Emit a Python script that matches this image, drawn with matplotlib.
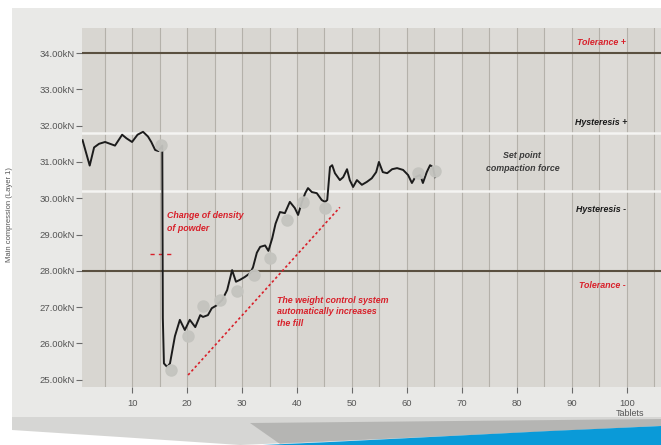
import matplotlib
matplotlib.use("Agg")
import matplotlib.pyplot as plt
from matplotlib.patches import Polygon, Rectangle

# measured compaction force trace
tablets = [1.0, 2.3, 3.1, 4.0, 5.1, 6.0, 6.9, 8.2, 9.0, 10.0, 11.0, 12.0, 12.9, 13.5,
           14.2, 14.8, 15.5, 15.6, 15.8, 16.4, 16.9, 17.8, 18.7, 19.6, 20.5, 21.5,
           22.4, 22.9, 23.8, 24.5, 25.4, 26.4, 27.3, 28.2, 28.9, 29.6, 30.5, 31.5,
           32.0, 32.7, 33.3, 34.2, 34.8, 35.5, 36.1, 36.9, 37.8, 38.7, 39.6, 40.2,
           40.9, 41.5, 42.0, 42.7, 43.6, 44.5, 45.1, 45.5, 46.0, 46.4, 46.9, 47.8,
           48.4, 49.1, 49.6, 50.2, 50.9, 51.8, 52.7, 53.6, 54.4, 54.9, 55.6, 56.4,
           57.3, 58.2, 59.3, 60.2, 60.9, 61.5, 62.4, 62.9, 63.6, 64.2, 64.7, 65.1]
force = [31.6, 30.9, 31.4, 31.5, 31.55, 31.5, 31.45, 31.75, 31.65, 31.55, 31.75, 31.83,
         31.7, 31.55, 31.33, 31.3, 31.45, 26.7, 25.45, 25.35, 25.45, 26.2, 26.65, 26.37,
         26.65, 26.45, 26.78, 26.73, 26.78, 26.97, 27.05, 27.2, 27.47, 28.02, 27.7, 27.75,
         27.83, 27.94, 28.1, 28.5, 28.66, 28.7, 28.55, 28.9, 29.3, 29.62, 29.59, 29.9,
         29.73, 29.54, 29.9, 30.14, 30.28, 30.17, 30.14, 29.95, 29.9, 29.95, 30.86, 30.91,
         30.69, 30.5, 30.58, 30.8, 30.5, 30.31, 30.5, 30.37, 30.45, 30.55, 30.72, 31.0,
         30.72, 30.69, 30.8, 30.83, 30.78, 30.64, 30.42, 30.58, 30.64, 30.42, 30.72, 30.91,
         30.86, 30.58]

# sampled (weighed) tablets
sample_tablets = [15.3, 17.1, 20.2, 22.9, 26.0, 29.1, 32.2, 35.1, 38.2, 41.1, 45.1, 62.0, 65.1]
sample_force = [31.47, 25.27, 26.2, 27.03, 27.2, 27.45, 27.88, 28.35, 29.4, 29.9, 29.73, 30.7, 30.75]

tolerance = [34.0, 28.0]
hysteresis = [31.8, 30.2]
ytick_vals = [25, 26, 27, 28, 29, 30, 31, 32, 33, 34]
ytick_labels = ["%.2fkN" % v for v in ytick_vals]
xtick_vals = [10, 20, 30, 40, 50, 60, 70, 80, 90, 100]

trend_x = [20.2, 47.8]
trend_y = [25.13, 29.75]
step_x = [13.3, 17.3]
step_y = [28.47, 28.47]

plt.rcParams['font.family'] = ['Liberation Sans', 'DejaVu Sans']

W, H = 661, 445
fig = plt.figure(figsize=(W / 100, H / 100), dpi=100, facecolor="white")

def fx(px):
    return px / W

def fy(py):
    return 1 - py / H

# background panel, shadow and blue swoosh
fig.patches.append(Rectangle((fx(12), fy(420)), 1, fy(8) - fy(420), transform=fig.transFigure,
                             facecolor="#e9e9e7", edgecolor="none", zorder=0))
shadow = [(12, 417), (661, 417), (661, 426), (450, 436), (240, 445), (120, 437), (12, 430)]
fig.patches.append(Polygon([(fx(a), fy(b)) for a, b in shadow], closed=True, transform=fig.transFigure,
                           facecolor="#d6d6d4", edgecolor="none", zorder=0))
shadow2 = [(250, 423), (661, 419), (661, 426), (450, 436), (280, 444)]
fig.patches.append(Polygon([(fx(a), fy(b)) for a, b in shadow2], closed=True, transform=fig.transFigure,
                           facecolor="#8e8e8c", edgecolor="none", alpha=0.45, zorder=0))
swoosh = [(240, 446), (330, 442), (450, 436), (550, 431), (661, 426), (661, 446)]
fig.patches.append(Polygon([(fx(a), fy(b)) for a, b in swoosh], closed=True, transform=fig.transFigure,
                           facecolor="#0a9ad8", edgecolor="none", zorder=0))

ax = fig.add_axes([fx(82), fy(387), fx(661) - fx(82), fy(28) - fy(387)])
ax.set_zorder(3)
ax.set_facecolor("#d8d6d1")
ax.set_xlim(0.9, 106.2)
ax.set_ylim(24.8, 34.69)

# alternating columns and vertical grid
for x0 in range(5, 106, 10):
    ax.axvspan(x0, x0 + 5, color="#dddbd7", lw=0, zorder=0)
for xv in range(5, 106, 5):
    ax.axvline(xv, color="#b4b1aa", lw=0.8, zorder=1)

for h in hysteresis:
    ax.axhline(h, color="#f4f4f2", lw=1.8, zorder=2)
for t in tolerance:
    ax.axhline(t, color="#5a5040", lw=1.5, zorder=2)

ax.plot(trend_x, trend_y, color="#d8202a", lw=1.2, ls=(0, (1.5, 1.5)), zorder=3)
ax.plot(step_x, step_y, color="#d8202a", lw=1.0, ls=(0, (3, 3)), zorder=3)

ax.plot(tablets, force, color="#1c1c1c", lw=1.4, zorder=4)
ax.plot(sample_tablets, sample_force, ls="none", marker="o", ms=8,
        mfc="#c4c4bf", mec="#c4c4bf", alpha=0.95, zorder=5)

for s in ax.spines.values():
    s.set_visible(False)
ax.set_yticks(ytick_vals)
ax.set_yticklabels(ytick_labels)
ax.set_xticks(xtick_vals)
ax.tick_params(axis="both", labelsize=6.8, colors="#6a6a6a", labelcolor="#555555",
               length=4, width=0.8)
ax.tick_params(axis="y", pad=1)
ax.tick_params(axis="x", pad=5)

red = "#d8202a"
tkw = dict(fontsize=6.4, fontweight="bold", fontstyle="italic")
ax.text(95.3, 34.3, "Tolerance +", color=red, ha="center", va="center", **tkw)
ax.text(95.3, 32.1, "Hysteresis +", color="#1a1a1a", ha="center", va="center", **tkw)
ax.text(95.3, 29.68, "Hysteresis -", color="#1a1a1a", ha="center", va="center", **tkw)
ax.text(95.5, 27.6, "Tolerance -", color=red, ha="center", va="center", **tkw)
ax.text(81, 31.0, "Set point\ncompaction force", color="#3a3a3a", ha="center", va="center",
        linespacing=1.5, **tkw)
ax.text(16.4, 29.34, "Change of density\nof powder", color=red, ha="left", va="center",
        linespacing=1.6, **tkw)
ax.text(36.4, 26.87, "The weight control system\nautomatically increases\nthe fill", color=red,
        ha="left", va="center", linespacing=1.35, **tkw)

fig.text(fx(630), fy(413), "Tablets", fontsize=6.5, color="#555555", ha="center", va="center")
fig.text(fx(10), fy(215), "Main compression (Layer 1)", fontsize=5.5, color="#555555",
         rotation=90, ha="center", va="center")

fig.savefig("out.png", dpi=100, facecolor=fig.get_facecolor())
